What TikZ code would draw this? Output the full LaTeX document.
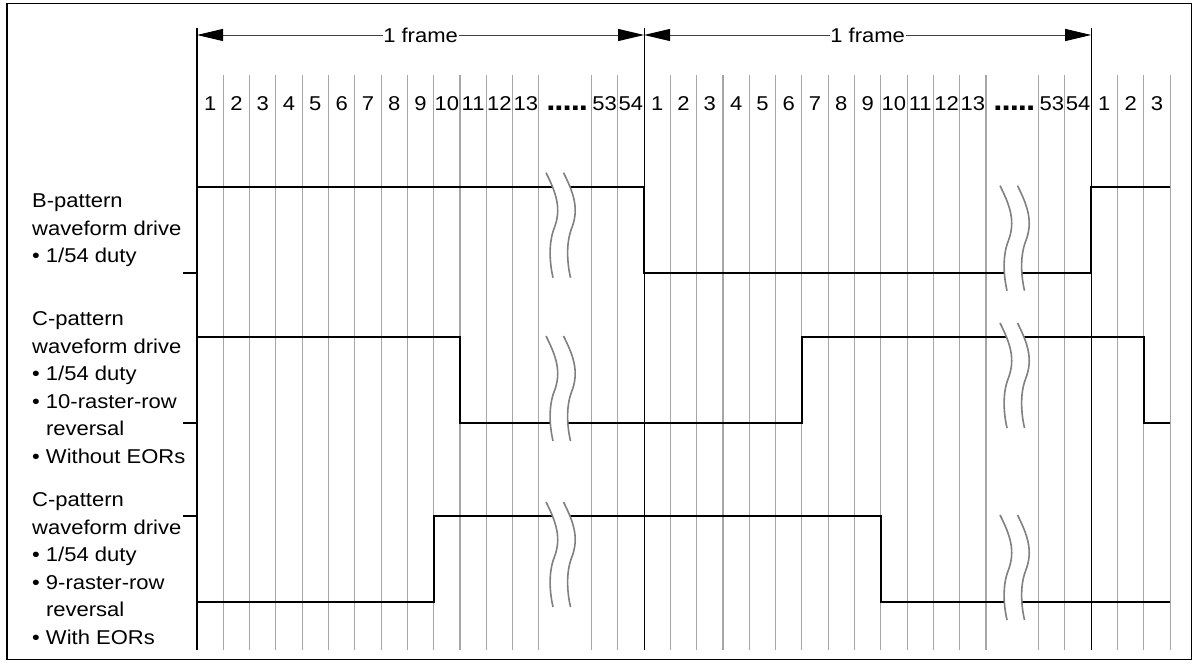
\documentclass[tikz,border=0pt]{standalone}
\usepackage{fontspec}
\setmainfont[FakeStretch=1.1]{Liberation Sans}
\usetikzlibrary{arrows.meta}

\def\xo{197}
\def\cw{26.3}
\def\ras #1 {\draw[raster] ({\xo+#1*\cw},75) -- ({\xo+#1*\cw},650);}
\def\frm #1 {\draw[frameline] ({\xo+#1*\cw},28) -- ({\xo+#1*\cw},650);}
\def\num#1#2{\node[num] (n#1) at ({\xo+(#1+0.5)*\cw},111) {#2};}
\def\dotrow{\fontsize{30}{30}\selectfont\bfseries .\kern-1pt.\kern-1pt.\kern-1pt.\kern-1pt.}
% break mark, top left point at (#1,#2):
\def\brk#1#2{
\begin{scope}[shift={(#1,#2)}]
\fill[white] (0,0) .. controls (10,20) and (16,36) .. (8,56) .. controls (2,72) and (4,92) .. (7,105)
  -- (24.5,105) .. controls (21.5,92) and (19.5,72) .. (25.5,56) .. controls (33.5,36) and (27.5,20) .. (17.5,0) -- cycle;
\draw[brkline] (0,0) .. controls (10,20) and (16,36) .. (8,56) .. controls (2,72) and (4,92) .. (7,105);
\draw[brkline] (17.5,0) .. controls (27.5,20) and (33.5,36) .. (25.5,56) .. controls (19.5,72) and (21.5,92) .. (24.5,105);
\end{scope}}

\begin{document}
\begin{tikzpicture}[x=1pt,y=-1pt,
font=\fontsize{20}{27.5}\selectfont,
raster/.style={black!35, line width=1.1pt},
frameline/.style={black, line width=1.1pt},
wave/.style={black, line width=2.3pt},
brkline/.style={black!50, line width=1.6pt},
dim/.style={black!75, line width=0.9pt, -{Triangle[length=26pt,width=12pt,black]}},
lbl/.style={anchor=north west, align=left, inner sep=0pt},
num/.style={anchor=base, inner sep=0pt},
]
\useasboundingbox (0,0) rectangle (1199,666);

% Border:
\draw[line width=1.3pt] (7,3.3) rectangle (1191.7,659.5);

\ras 1 \ras 2 \ras 3 \ras 4 \ras 5 \ras 6 \ras 7 \ras 8 \ras 9 \ras 10 \ras 11 \ras 12 \ras 13
\ras 15 \ras 16
\ras 18 \ras 19 \ras 20 \ras 21 \ras 22 \ras 23 \ras 24 \ras 25 \ras 26 \ras 27 \ras 28 \ras 29 \ras 30
\ras 32 \ras 33
\ras 35 \ras 36 \ras 37

\frm 0
\frm 17
\frm 34

% Raster row numbers:
\num{0}{1} \num{1}{2} \num{2}{3} \num{3}{4} \num{4}{5} \num{5}{6} \num{6}{7}
\num{7}{8} \num{8}{9} \num{9}{10} \num{10}{11} \num{11}{12} \num{12}{13}
\num{15}{53} \num{16}{54}
\num{17}{1} \num{18}{2} \num{19}{3} \num{20}{4} \num{21}{5} \num{22}{6} \num{23}{7}
\num{24}{8} \num{25}{9} \num{26}{10} \num{27}{11} \num{28}{12} \num{29}{13}
\num{32}{53} \num{33}{54}
\num{34}{1} \num{35}{2} \num{36}{3}
\node[num] (dots1) at ({\xo+14*\cw+2},111) {\dotrow};
\node[num] (dots2) at ({\xo+31*\cw+2},111) {\dotrow};

% Frame arrows:
\node[inner sep=0.5pt] (fa) at ({\xo+8.5*\cw},35) {1 frame};
\node[inner sep=0.5pt] (fb) at ({\xo+25.5*\cw},35) {1 frame};
\coordinate (fa1) at (\xo,35);
\coordinate (fa2) at ({\xo+17*\cw},35);
\coordinate (fb2) at ({\xo+34*\cw},35);
\draw[dim] (fa) -- (fa1);
\draw[dim] (fa) -- (fa2);
\draw[dim] (fb) -- (fa2);
\draw[dim] (fb) -- (fb2);

% B-pattern
\draw[wave] (183,272.7) -- (\xo,272.7) -- (\xo,186.7) -- ({\xo+17*\cw},186.7) -- ({\xo+17*\cw},272.7)
  -- ({\xo+34*\cw},272.7) -- ({\xo+34*\cw},186.7) -- ({\xo+37*\cw},186.7);
% C-pattern, 10 rows
\draw[wave] (183,423) -- (\xo,423) -- (\xo,337) -- ({\xo+10*\cw},337) -- ({\xo+10*\cw},423)
  -- ({\xo+23*\cw},423) -- ({\xo+23*\cw},337) -- ({\xo+36*\cw},337) -- ({\xo+36*\cw},423) -- ({\xo+37*\cw},423);
% C-pattern, 9 rows
\draw[wave] (183,516) -- (\xo,516) -- (\xo,601.7) -- ({\xo+9*\cw},601.7) -- ({\xo+9*\cw},516)
  -- ({\xo+26*\cw},516) -- ({\xo+26*\cw},601.7) -- ({\xo+37*\cw},601.7);

\brk{546}{172.7}
\brk{1000}{185.7}
\brk{546}{336}
\brk{1000}{323}
\brk{546}{502}
\brk{1000}{515}

% Labels:
\node[lbl] (lb) at (32,194) {B-pattern\\waveform drive\\• 1/54 duty};
\node[lbl] (lc) at (32,311.7) {C-pattern\\waveform drive\\• 1/54 duty\\• 10-raster-row\\\phantom{• }reversal\\• Without EORs};
\node[lbl] (ld) at (32,492.4) {C-pattern\\waveform drive\\• 1/54 duty\\• 9-raster-row\\\phantom{• }reversal\\• With EORs};
\end{tikzpicture}
\end{document}
